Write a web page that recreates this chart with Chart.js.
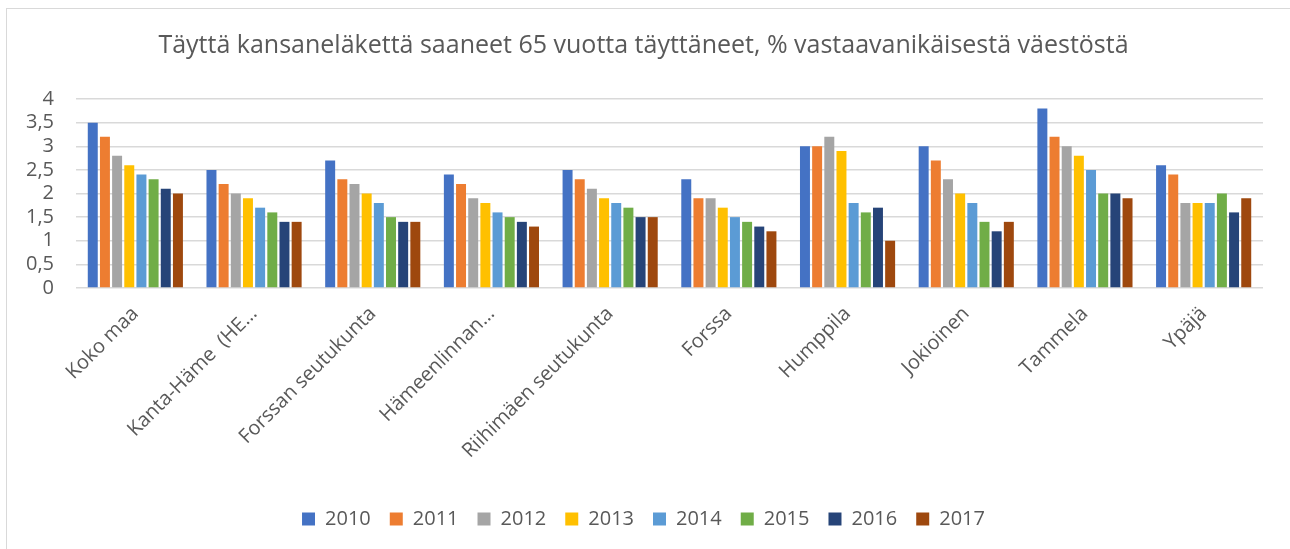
<!DOCTYPE html>
<html>
<head>
<meta charset="utf-8">
<script src="https://cdn.jsdelivr.net/npm/chart.js@4"></script>
<style>
  html, body { margin: 0; padding: 0; background: #fff; }
  #frame { position: absolute; left: 6px; top: 8px; width: 1300px; height: 560px; border: 1px solid #d9d9d9; }
  #wrap { position: absolute; left: 0; top: 0; width: 1290px; height: 549px; }
</style>
</head>
<body>
<div id="frame"></div>
<div id="wrap"><canvas id="kansanelake"></canvas></div>
<script>
// Alueet ja vuodet
var alueet = ['Koko maa', 'Kanta-Häme  (HE…', 'Forssan seutukunta', 'Hämeenlinnan…', 'Riihimäen seutukunta',
    'Forssa', 'Humppila', 'Jokioinen', 'Tammela', 'Ypäjä'];
var vuodet = ['2010', '2011', '2012', '2013', '2014', '2015', '2016', '2017'];
var yTicks = [0, 0.5, 1, 1.5, 2, 2.5, 3, 3.5, 4];

// Arvot vuosittain (yksi taulukko per vuosi, järjestys kuten alueet)
var v2010 = [3.5, 2.5, 2.7, 2.4, 2.5, 2.3, 3.0, 3.0, 3.8, 2.6];
var v2011 = [3.2, 2.2, 2.3, 2.2, 2.3, 1.9, 3.0, 2.7, 3.2, 2.4];
var v2012 = [2.8, 2.0, 2.2, 1.9, 2.1, 1.9, 3.2, 2.3, 3.0, 1.8];
var v2013 = [2.6, 1.9, 2.0, 1.8, 1.9, 1.7, 2.9, 2.0, 2.8, 1.8];
var v2014 = [2.4, 1.7, 1.8, 1.6, 1.8, 1.5, 1.8, 1.8, 2.5, 1.8];
var v2015 = [2.3, 1.6, 1.5, 1.5, 1.7, 1.4, 1.6, 1.4, 2.0, 2.0];
var v2016 = [2.1, 1.4, 1.4, 1.4, 1.5, 1.3, 1.7, 1.2, 2.0, 1.6];
var v2017 = [2.0, 1.4, 1.4, 1.3, 1.5, 1.2, 1.0, 1.4, 1.9, 1.9];

var arvot = [v2010, v2011, v2012, v2013, v2014, v2015, v2016, v2017];
var varit = ['#4472C4', '#ED7D31', '#A5A5A5', '#FFC000', '#5B9BD5', '#70AD47', '#264478', '#9E480E'];

var datasets = vuodet.map(function(v, i) {
    return {
        label: v,
        data: arvot[i],
        backgroundColor: varit[i],
        borderWidth: 0,
        categoryPercentage: 0.82,
        barPercentage: 0.82
    };
});

var fontFam = '"Open Sans", Lato, sans-serif';
var ctx = document.getElementById('kansanelake').getContext('2d');
var chart = new Chart(ctx, {
    type: 'bar',
    data: { labels: alueet, datasets: datasets },
    options: {
        responsive: true,
        maintainAspectRatio: false,
        animation: false,
        layout: { autoPadding: false, padding: { left: 24, right: 27, top: 18, bottom: 10 } },
        plugins: {
            title: {
                display: true,
                text: 'Täyttä kansaneläkettä saaneet 65 vuotta täyttäneet, % vastaavanikäisestä väestöstä',
                color: '#595959',
                font: { family: fontFam, size: 25, weight: 'normal' },
                padding: { top: 13, bottom: 38 }
            },
            legend: {
                position: 'bottom',
                labels: {
                    color: '#595959',
                    font: { family: fontFam, size: 20 },
                    boxWidth: 13,
                    boxHeight: 13,
                    padding: 19
                }
            },
            tooltip: { enabled: false }
        },
        scales: {
            x: {
                grid: { display: false },
                border: { display: false },
                afterFit: function(scale) {
                    scale.height = 202;
                    scale.paddingLeft = 0;
                    scale.paddingRight = 0;
                },
                ticks: {
                    color: '#595959',
                    font: { family: fontFam, size: 20 },
                    maxRotation: 45,
                    minRotation: 45,
                    autoSkip: false,
                    padding: 6
                }
            },
            y: {
                min: 0,
                max: 4,
                afterBuildTicks: function(scale) {
                    scale.ticks = yTicks.map(function(t) { return { value: t }; });
                },
                afterFit: function(scale) { scale.width = 52; },
                grid: { color: '#d9d9d9', lineWidth: 1.5, drawTicks: false },
                border: { display: false },
                ticks: {
                    autoSkip: false,
                    color: '#595959',
                    font: { family: fontFam, size: 20 },
                    padding: 22,
                    callback: function(value) { return String(value).replace('.', ','); }
                }
            }
        }
    }
});
</script>
</body>
</html>
